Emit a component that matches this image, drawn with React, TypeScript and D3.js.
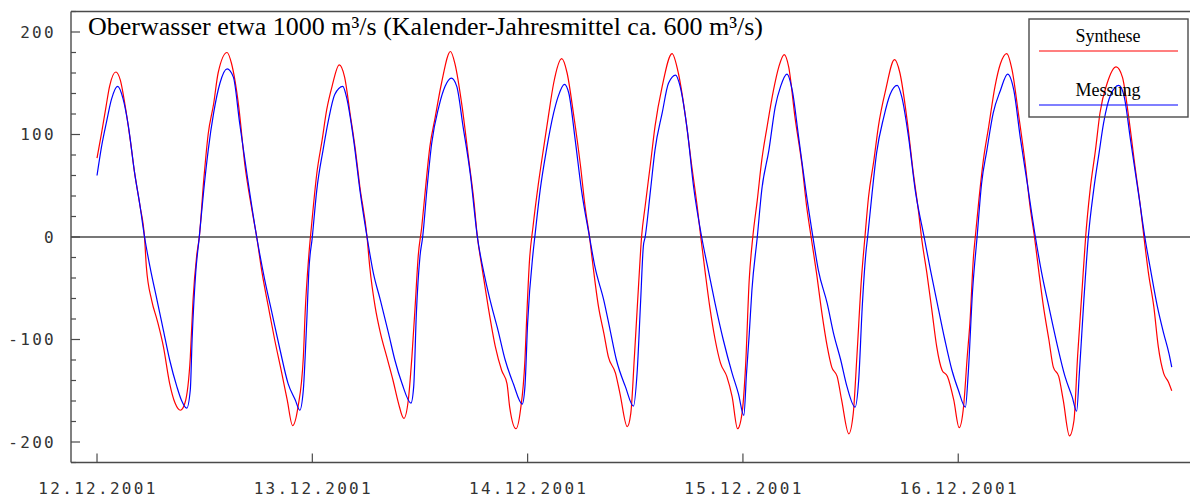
import React from "react";
import * as d3 from "d3";

// Hours after 12.12.2001 00:00 and discharge in m³/s
const synthese: [number, number][] = [
  [0, 77], [0.5, 101], [1.0, 127], [1.4, 147], [2.1, 161], [2.6, 153], [3.1, 130], [3.7, 95], [4.2, 62], [4.8, 30],
  [5.3, -1], [5.5, -29], [6.1, -62], [6.7, -81], [7.4, -107], [8.1, -143], [8.7, -162], [9.3, -169], [9.8, -162],
  [10.4, -117], [10.7, -62], [11.1, -19], [11.4, 0], [11.9, 56], [12.4, 101], [13.0, 130], [13.5, 160], [14.5, 180],
  [15.0, 169], [15.8, 127], [16.5, 69], [17.2, 30], [17.8, 0], [18.4, -35], [19.1, -68], [19.8, -100], [20.6, -133],
  [21.2, -159], [21.8, -184], [22.4, -166], [23.0, -117], [23.2, -74], [23.6, -19], [23.9, 10], [24.5, 62], [25.1, 95],
  [25.6, 124], [26.2, 147], [27.0, 168], [27.6, 156], [28.2, 121], [28.8, 85], [29.3, 49], [30.1, 0], [30.4, -29],
  [31.0, -68], [31.6, -94], [32.3, -117], [33.0, -140], [33.6, -162], [34.2, -177], [34.7, -159], [35.1, -117],
  [35.5, -62], [35.8, -19], [36.2, 10], [36.6, 46], [37.1, 88], [37.7, 117], [38.4, 150], [39.4, 181], [39.9, 169],
  [40.7, 127], [41.4, 78], [42.0, 36], [42.4, 0], [42.9, -29], [43.6, -68], [44.4, -107], [45.1, -130], [45.7, -143],
  [46.0, -166], [46.7, -187], [47.2, -169], [47.7, -120], [47.9, -78], [48.2, -24], [48.6, 10], [49.2, 52], [49.8, 88],
  [50.3, 117], [50.9, 150], [51.8, 174], [52.4, 160], [53.1, 121], [53.9, 69], [54.4, 30], [54.9, 0], [55.3, -29],
  [55.9, -68], [56.5, -94], [57.0, -117], [57.8, -133], [58.3, -153], [59.1, -185], [59.5, -172], [59.9, -117],
  [60.4, -42], [60.7, 0], [61.1, 30], [61.7, 72], [62.2, 108], [63.0, 147], [64.1, 179], [64.8, 160], [65.6, 117],
  [66.3, 69], [66.9, 30], [67.3, 0], [67.8, -35], [68.3, -68], [68.9, -100], [69.5, -123], [70.2, -136], [70.8, -156],
  [71.4, -187], [71.9, -172], [72.3, -125], [72.7, -42], [73.1, 0], [73.6, 36], [74.1, 75], [74.7, 108], [75.4, 143],
  [76.0, 166], [76.6, 178], [77.1, 166], [77.8, 117], [78.6, 69], [79.1, 30], [79.6, 0], [80.2, -35], [80.8, -74],
  [81.4, -107], [81.9, -127], [82.5, -136], [83.0, -159], [83.8, -192], [84.3, -172], [84.7, -117], [85.2, -42],
  [85.6, 0], [86.0, 39], [86.6, 75], [87.1, 108], [87.9, 143], [88.9, 173], [89.5, 160], [90.3, 114], [91.0, 62],
  [91.6, 23], [91.9, 0], [92.5, -35], [93.1, -74], [93.6, -107], [94.2, -130], [94.8, -136], [95.5, -159], [96.1, -186],
  [96.6, -165], [97.0, -117], [97.3, -84], [97.7, -19], [97.9, 0], [98.3, 36], [98.8, 75], [99.4, 108], [100.1, 147],
  [100.7, 169], [101.4, 179], [102.0, 163], [102.7, 121], [103.5, 69], [104.0, 30], [104.5, 0], [105.0, -35],
  [105.5, -68], [106.1, -100], [106.6, -127], [107.2, -136], [107.7, -159], [108.4, -194], [108.9, -179], [109.3, -117],
  [109.8, -52], [110.2, 0], [110.7, 46], [111.3, 85], [111.8, 121], [112.6, 150], [113.6, 166], [114.3, 156],
  [115.0, 117], [115.7, 69], [116.3, 30], [116.7, 0], [117.2, -35], [117.8, -68], [118.3, -107], [118.9, -133],
  [119.4, -141], [119.8, -150],
];

const messung: [number, number][] = [
  [0, 60], [0.5, 88], [1.1, 114], [1.6, 134], [2.3, 147], [2.9, 135], [3.5, 108], [4.2, 62], [4.8, 30], [5.3, 0],
  [5.9, -29], [6.7, -62], [7.4, -91], [8.1, -120], [8.9, -146], [9.4, -159], [10.0, -167], [10.4, -149], [10.6, -100],
  [11.0, -35], [11.4, 0], [11.9, 46], [12.4, 85], [13.0, 121], [13.7, 150], [14.5, 164], [15.2, 156], [15.9, 111],
  [16.7, 62], [17.8, 0], [18.7, -42], [19.5, -74], [20.4, -110], [21.3, -143], [22.1, -159], [22.6, -169], [23.0, -149],
  [23.2, -117], [23.4, -78], [23.6, -35], [24.0, 0], [24.5, 46], [25.2, 85], [25.8, 114], [26.5, 139], [27.4, 147],
  [27.8, 137], [28.6, 95], [29.3, 46], [30.1, 0], [30.8, -35], [31.6, -62], [32.5, -94], [33.2, -120], [34.0, -143],
  [35.0, -162], [35.3, -146], [35.6, -74], [36.0, -19], [36.3, 0], [36.8, 49], [37.3, 91], [38.1, 127], [38.8, 147],
  [39.5, 155], [40.1, 147], [40.8, 108], [41.6, 62], [42.4, 0], [43.3, -42], [44.0, -68], [44.7, -91], [45.5, -120],
  [46.4, -143], [47.4, -163], [47.7, -146], [48.0, -84], [48.6, -16], [48.8, 0], [49.4, 46], [50.1, 85], [50.9, 121],
  [51.4, 137], [52.1, 149], [52.6, 140], [53.3, 95], [54.0, 46], [54.9, 0], [55.5, -29], [56.5, -62], [57.2, -91],
  [57.9, -120], [58.9, -146], [59.8, -165], [60.2, -133], [60.6, -62], [60.9, -9], [61.1, 0], [61.7, 46], [62.2, 85],
  [63.0, 121], [63.7, 150], [64.5, 158], [65.0, 147], [65.8, 104], [66.5, 49], [67.4, 0], [68.2, -35], [68.9, -65],
  [69.8, -100], [70.8, -133], [71.5, -153], [72.1, -174], [72.4, -133], [72.7, -95], [73.0, -52], [73.6, 0], [74.1, 46],
  [74.9, 85], [75.6, 127], [76.2, 147], [76.9, 159], [77.5, 143], [78.2, 98], [79.0, 46], [79.8, 0], [80.4, -32],
  [81.4, -65], [82.1, -94], [82.9, -120], [83.6, -146], [84.5, -166], [84.9, -140], [85.3, -68], [85.7, -16], [85.9, 0],
  [86.4, 43], [86.9, 82], [87.7, 117], [88.4, 139], [89.2, 148], [89.7, 137], [90.5, 95], [91.2, 46], [92.2, 0],
  [92.9, -32], [93.6, -62], [94.5, -100], [95.3, -130], [96.0, -149], [96.8, -166], [97.1, -135], [97.6, -52], [98.1, 0],
  [98.6, 52], [99.2, 85], [99.9, 121], [100.7, 143], [101.5, 159], [102.2, 143], [102.9, 98], [103.7, 52], [104.6, 0],
  [105.3, -35], [106.1, -68], [107.0, -104], [107.9, -136], [108.7, -156], [109.2, -170], [109.5, -133], [110.0, -62],
  [110.5, 0], [111.1, 46], [111.7, 82], [112.2, 111], [113.0, 139], [113.9, 148], [114.5, 137], [115.2, 95], [116.2, 36],
  [116.8, 0], [117.5, -35], [118.2, -68], [118.9, -94], [119.5, -114], [119.8, -127],
];

const yLabelTicks = [200, 100, 0, -100, -200];
const yMinorTicks = d3.range(-220, 221, 20);
const dayTicks = ["2001-12-12", "2001-12-13", "2001-12-14", "2001-12-15", "2001-12-16"];
const title = "Oberwasser etwa 1000 m³/s (Kalender-Jahresmittel ca. 600 m³/s)";
const seriesNames = ["Synthese", "Messung"];
const seriesColors = ["#ff0000", "#0000ff"];

const W = 1190;
const H = 499;
const start = new Date(2001, 11, 12, 0, 0);
const hourMs = 3600 * 1000;
const toDate = (h: number) => new Date(start.getTime() + h * hourMs);

const x = d3.scaleTime().domain([toDate(-2.9), toDate(121.5)]).range([71, 1187]);
const y = d3.scaleLinear().domain([-220, 220]).range([462.5, 11.5]);

const line = d3
  .line<[number, number]>()
  .x((d) => x(toDate(d[0])))
  .y((d) => y(d[1]))
  .curve(d3.curveMonotoneX);

const fmt = d3.timeFormat("%d.%m.%Y");
const parse = d3.timeParse("%Y-%m-%d");

const axisColor = "#4a4a4a";
const tickFont = "'DejaVu Sans Mono', monospace";
const serif = "'Liberation Serif', 'Times New Roman', serif";

export default function App() {
  const left = 71;
  const right = 1190;
  const top = y(220);
  const bottom = y(-220);
  return (
    <svg
      width={W}
      height={H}
      style={{ position: "absolute", left: 0, top: 0, background: "#fff" }}
    >
      <rect x={0} y={0} width={W} height={H} fill="#fff" />
      {/* frame */}
      <line x1={left} x2={right} y1={top} y2={top} stroke={axisColor} strokeWidth={1.4} />
      <line x1={left} x2={right} y1={bottom} y2={bottom} stroke={axisColor} strokeWidth={1.4} />
      <line x1={left} x2={left} y1={top} y2={bottom} stroke={axisColor} strokeWidth={1.4} />
      {/* zero line */}
      <line x1={left} x2={right} y1={y(0)} y2={y(0)} stroke={axisColor} strokeWidth={1.4} />

      {/* y ticks */}
      {yMinorTicks.map((v) => {
        const major = v % 100 === 0;
        return (
          <line
            key={"yt" + v}
            x1={left}
            x2={left + (major ? 9 : 5)}
            y1={y(v)}
            y2={y(v)}
            stroke={axisColor}
            strokeWidth={1.2}
          />
        );
      })}
      {yLabelTicks.map((v) => (
        <text
          key={"yl" + v}
          x={56}
          y={y(v)}
          dy="0.36em"
          textAnchor="end"
          fontFamily={tickFont}
          fontSize={16}
          letterSpacing={2.3}
          fill="#333"
        >
          {v}
        </text>
      ))}

      {/* x ticks */}
      {dayTicks.map((s) => {
        const d = parse(s) as Date;
        const px = x(d);
        return (
          <g key={s}>
            <line x1={px} x2={px} y1={bottom} y2={bottom - 9} stroke={axisColor} strokeWidth={1.2} />
            <text
              x={px + 1}
              y={494}
              textAnchor="middle"
              fontFamily={tickFont}
              fontSize={16}
              letterSpacing={2.3}
              fill="#333"
            >
              {fmt(d)}
            </text>
          </g>
        );
      })}

      {/* series */}
      <path d={line(synthese) ?? ""} fill="none" stroke={seriesColors[0]} strokeWidth={1.2} />
      <path d={line(messung) ?? ""} fill="none" stroke={seriesColors[1]} strokeWidth={1.2} />

      {/* title */}
      <text x={88} y={35} fontFamily={serif} fontSize={26} fill="#000">
        {title}
      </text>

      {/* legend */}
      <rect x={1029} y={19} width={159} height={98} fill="none" stroke={axisColor} strokeWidth={1.4} />
      <text x={1108} y={42} textAnchor="middle" fontFamily={serif} fontSize={18} fill="#000">
        {seriesNames[0]}
      </text>
      <line x1={1039} x2={1178} y1={51} y2={51} stroke={seriesColors[0]} strokeWidth={1.2} />
      <text x={1108} y={96} textAnchor="middle" fontFamily={serif} fontSize={18} fill="#000">
        {seriesNames[1]}
      </text>
      <line x1={1039} x2={1178} y1={105} y2={105} stroke={seriesColors[1]} strokeWidth={1.2} />
    </svg>
  );
}
